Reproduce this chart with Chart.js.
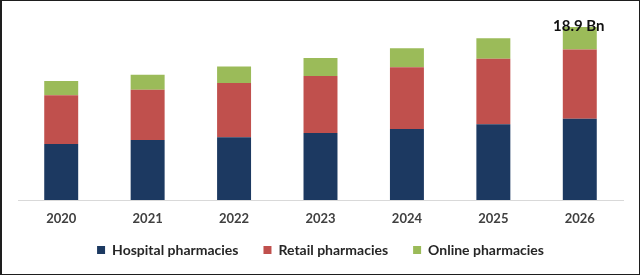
<!DOCTYPE html>
<html>
<head>
<meta charset="utf-8">
<script src="https://cdn.jsdelivr.net/npm/chart.js@4"></script>
<style>
  html, body { margin: 0; padding: 0; background: #fff; }
  #wrap {
    position: absolute; left: 0; top: 0;
    width: 640px; height: 275px; box-sizing: border-box;
    border: 1px solid #1e1e1e; border-left: 2px solid #1e1e1e;
  }
  canvas { display: block; }
</style>
</head>
<body>
<div id="wrap"><canvas id="myChart" width="637" height="273"></canvas></div>
<script>
// values in USD Bn
const years = ['2020', '2021', '2022', '2023', '2024', '2025', '2026'];
const hospital = [6.12, 6.56, 6.85, 7.32, 7.76, 8.27, 8.87];
const retail = [5.32, 5.50, 5.93, 6.23, 6.74, 7.17, 7.57];
const online = [1.56, 1.64, 1.82, 1.97, 2.08, 2.23, 2.46];
const topLabel = '18.9 Bn';

const ctx = document.getElementById('myChart');

const topLabelPlugin = {
  id: 'topLabel',
  afterLayout(chart) {
    // x axis was squeezed (see afterFit), give its labels room to draw
    chart.scales.x.bottom += 30;
  },
  afterDatasetsDraw(chart) {
    const meta = chart.getDatasetMeta(chart.data.datasets.length - 1);
    const bar = meta.data[meta.data.length - 1];
    const c = chart.ctx;
    c.save();
    c.font = 'bold 15px Lato';
    c.fillStyle = '#111';
    c.textAlign = 'center';
    c.textBaseline = 'alphabetic';
    c.fillText(topLabel, bar.x - 1, bar.y + 4);
    c.restore();
  }
};

new Chart(ctx, {
  type: 'bar',
  data: {
    labels: years,
    datasets: [
      { label: 'Hospital pharmacies', data: hospital, backgroundColor: '#1c3961' },
      { label: 'Retail pharmacies', data: retail, backgroundColor: '#c0504d' },
      { label: 'Online pharmacies', data: online, backgroundColor: '#9bbb59' }
    ]
  },
  options: {
    responsive: false,
    animation: false,
    devicePixelRatio: 1,
    barPercentage: 0.393,
    categoryPercentage: 1,
    layout: { padding: { left: 16, right: 16, top: 16, bottom: 7 } },
    plugins: {
      legend: {
        position: 'bottom',
        labels: {
          boxWidth: 8, boxHeight: 8, padding: 25,
          color: '#262626',
          font: { family: 'Lato', size: 14, weight: 'bold' }
        }
      },
      tooltip: { enabled: false }
    },
    scales: {
      x: {
        stacked: true,
        grid: { display: false },
        border: { display: true, color: '#d9d9d9' },
        ticks: { color: '#404040', padding: 3, font: { family: 'Lato', size: 13, weight: 'bold' } },
        // let the tick labels sit over the legend's top padding
        afterFit(scale) { scale.height = 18; }
      },
      y: {
        stacked: true,
        display: false,
        min: 0,
        max: 20
      }
    }
  },
  plugins: [topLabelPlugin]
});
</script>
</body>
</html>
